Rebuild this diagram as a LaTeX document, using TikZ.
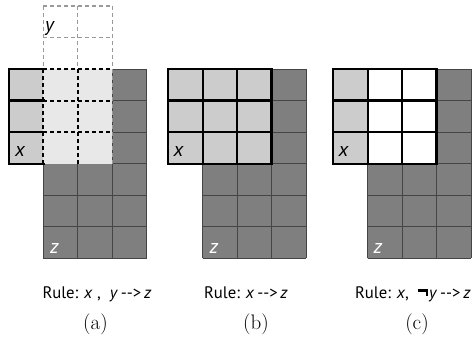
\documentclass[tikz,border=0pt]{standalone}
\usepackage{fontspec}
\newfontfamily\sansf{PT Sans}
\definecolor{dk}{HTML}{7F7F7F}
\definecolor{lt}{HTML}{CCCCCC}
\definecolor{vlt}{HTML}{E8E8E8}
\definecolor{gl}{HTML}{454545}
\definecolor{dashgray}{HTML}{999999}
\newcommand\negsym{\rule[6.4pt]{10.5pt}{2.6pt}\kern-2.6pt\rule[2pt]{2.6pt}{7pt}\kern1pt}
\tikzset{
  thingrid/.style={draw=gl, line width=0.8pt},
  thickline/.style={draw=black, line width=2.3pt, line cap=rect},
  blackdash/.style={draw=black, line width=2.1pt, dash pattern=on 4pt off 3pt},
  graydash/.style={draw=dashgray, line width=1.3pt, dash pattern=on 4pt off 3pt},
  lbl/.style={font=\sansf\itshape\fontsize{20}{24}\selectfont, inner sep=0pt, anchor=base west},
  rule/.style={font=\sansf\fontsize{16.7}{19}\selectfont, inner sep=0pt, anchor=base west},
  capt/.style={font=\rmfamily\fontsize{21}{24}\selectfont, inner sep=0pt, anchor=base},
  panel/.style={xscale=34.4, yscale=31.55}
}
\newcommand\darkpart{%
  \fill[dk] (1,3) -- (3,3) -- (3,0) -- (4,0) -- (4,6) -- (1,6) -- cycle;
  \foreach \i in {1,2} {\draw[thingrid] (\i,3) -- (\i,6);}
  \foreach \i in {3,4} {\draw[thingrid] (\i,0) -- (\i,6);}
  \foreach \j in {0,1,2} {\draw[thingrid] (3,\j) -- (4,\j);}
  \foreach \j in {3,4,5,6} {\draw[thingrid] (1,\j) -- (4,\j);}
}
\newcommand\solidgrid{%
  \foreach \i in {0,1,2,3} {\draw[thickline] (\i,0) -- (\i,3); \draw[thickline] (0,\i) -- (3,\i);}
}
\begin{document}
\begin{tikzpicture}[x=1pt,y=-1pt]
\useasboundingbox (0,0) rectangle (476,343);
% panel (a)
\begin{scope}[shift={(9,69)}, panel]
  \darkpart
  \fill[lt] (0,0) rectangle (1,3);
  \fill[vlt] (1,0) rectangle (3,3);
  \foreach \i in {1,2,3} {\draw[graydash] (\i,-2) -- (\i,0);}
  \foreach \j in {-2,-1} {\draw[graydash] (1,\j) -- (3,\j);}
  \foreach \i in {1,2,3} {\draw[graydash] (\i,0) -- (\i,3);}
  \foreach \j in {0,1,2} {\draw[graydash] (1,\j) -- (3,\j);}
  \foreach \i in {1,2} {\draw[blackdash] (\i,0) -- (\i,3);}
  \foreach \j in {0,1,2} {\draw[blackdash] (1,\j) -- (3,\j);}
  \draw[thickline] (1,0) -- (0,0) -- (0,3) -- (1,3);
  \draw[thickline] (0,1) -- (1,1);
  \draw[thickline] (0,2) -- (1,2);
\end{scope}
% panel (b)
\begin{scope}[shift={(168.3,69)}, panel]
  \darkpart
  \fill[lt] (0,0) rectangle (3,3);
  \solidgrid
\end{scope}
% panel (c)
\begin{scope}[shift={(333.3,69)}, panel]
  \darkpart
  \fill[lt] (0,0) rectangle (1,3);
  \fill[white] (1,0) rectangle (3,3);
  \solidgrid
\end{scope}
% labels
\node[lbl] (ya) at (45,31) {y};
\node[lbl] (xa) at (15,156.5) {x};
\node[lbl] (xb) at (173.5,156.5) {x};
\node[lbl] (xc) at (338.5,156.5) {x};
\node[lbl, text=white] (za) at (50,253.5) {z};
\node[lbl, text=white] (zb) at (209.3,253.5) {z};
\node[lbl, text=white] (zc) at (373.3,253.5) {z};
% rules
\node[rule] (ra) at (42.3,298) {Rule: \textit{x}\ ,\ \ \textit{y}\,-{}-{}>\,\textit{z}};
\node[rule] (rb) at (204,298) {Rule: \textit{x}\,-{}-{}>\,\textit{z}};
\node[rule] (rc) at (355,298) {Rule: \textit{x},\ \ \negsym\textit{y}\,-{}-{}>\,\textit{z}};
% captions
\node[capt] (ca) at (95.5,329) {(a)};
\node[capt] (cb) at (256,329) {(b)};
\node[capt] (cc) at (417,329) {(c)};
\end{tikzpicture}
\end{document}
